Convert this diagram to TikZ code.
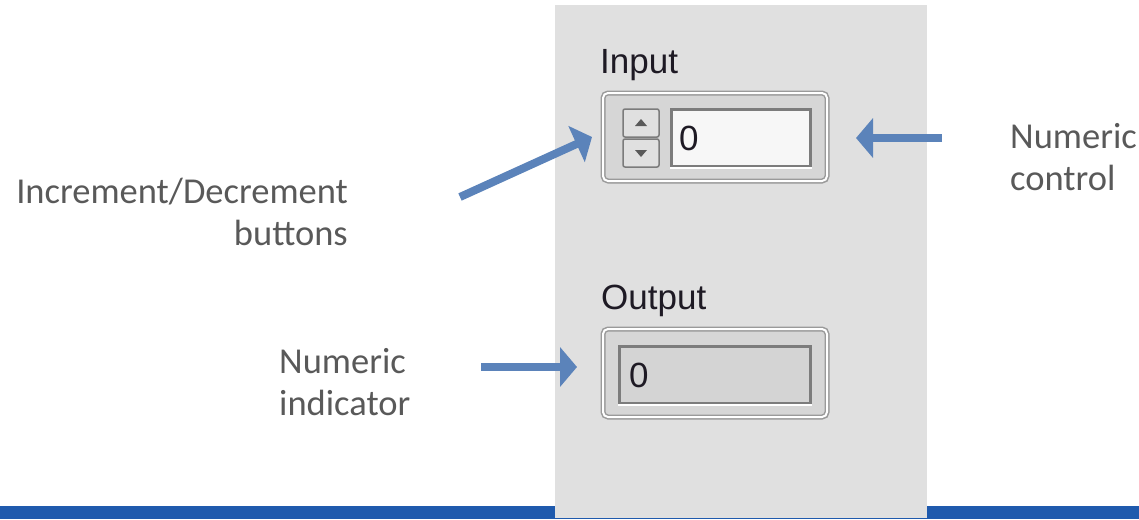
\documentclass[tikz,border=0pt]{standalone}
\usepackage{fontspec}
\usepackage{tikz}
\usetikzlibrary{arrows.meta,positioning,calc,shadows}
\newfontfamily\annotfont{Carlito}
\newfontfamily\lvfont{Liberation Sans}
\definecolor{annotgray}{HTML}{595959}
\definecolor{pointerblue}{HTML}{5B83BA}
\definecolor{barblue}{HTML}{1F5AAD}
\definecolor{panelgray}{HTML}{E0E0E0}
\definecolor{framegray}{HTML}{9A9A9A}
\definecolor{framefill}{HTML}{D6D6D6}
\definecolor{fieldedge}{HTML}{7C7C7C}
\definecolor{lvtext}{HTML}{1E1A24}

\begin{document}
\begin{tikzpicture}[x=1pt, y=-1pt,
  annot/.style={font=\annotfont\fontsize{36.5}{42}\selectfont, text=annotgray, inner sep=0pt},
  lvlabel/.style={font=\lvfont\fontsize{35}{42}\selectfont, text=lvtext, inner sep=0pt},
  lvframe/.style={draw=framegray, line width=1.5pt, double=white, double distance=2pt, fill=framefill,
    rounded corners=5pt, minimum width=224pt, minimum height=88pt,
    drop shadow={shadow xshift=2pt, shadow yshift=-2pt, opacity=0.35}},
  spinbtn/.style={draw=framegray!80!black, line width=1.5pt, fill=panelgray, rounded corners=2pt, minimum width=36pt, minimum height=28pt},
  field/.style={draw=fieldedge, line width=3pt, minimum height=57pt},
  pointer/.style={draw=pointerblue, line width=8pt, -{Triangle[length=17pt, width=39pt]}}
]
\useasboundingbox (0,0) rectangle (1139,519);

% background
\fill[barblue] (0,506) rectangle (1139,519);
\fill[panelgray] (555,5) rectangle (927,518);

% numeric control
\node[lvlabel, anchor=base west] (inlabel) at (600,73) {Input};
\node[lvframe] (ctrlbox) at (715,137) {};
\node[spinbtn] (spinup) at (641,123) {};
\node[spinbtn] (spindn) at (641,153) {};
\fill[black!65] ($(spinup)+(-6,3)$) -- ($(spinup)+(6,3)$) -- ($(spinup)+(0,-4)$) -- cycle;
\fill[black!65] ($(spindn)+(-6,-3)$) -- ($(spindn)+(6,-3)$) -- ($(spindn)+(0,4)$) -- cycle;
\node[field, fill=black!3, minimum width=139pt] (infield) at (741,138) {};
\draw[white, line width=2pt] (infield.south west) -- (infield.south east);
\node[lvlabel, anchor=west, right=9pt of infield.west] (inval) {0};

% numeric indicator
\node[lvlabel, anchor=base west] (outlabel) at (601,309) {Output};
\node[lvframe] (indbox) at (715,373) {};
\node[field, fill=black!17, minimum width=191pt] (outfield) at (715,375) {};
\draw[white, line width=2pt] (outfield.south west) -- (outfield.south east);
\node[lvlabel, anchor=west, right=11pt of outfield.west] (outval) {0};

% annotations (base = last line)
\node[annot, align=right, anchor=base east] (incnote) at (348,245) {Increment/Decrement\hspace{18pt}\\buttons};
\node[annot, align=left, anchor=base west] (ctrlnote) at (1010,190) {Numeric\\control};
\node[annot, align=left, anchor=base west] (indnote) at (279,415) {Numeric\\indicator};

\coordinate (inctail) at (460,197);
\coordinate (inctip) at (592,137);
\coordinate (ctrltail) at (942,138);
\coordinate (ctrltip) at (856,138);
\coordinate (indtail) at (481,367);
\coordinate (indtip) at (577,367);

\draw[pointer] (inctail) -- (inctip);
\draw[pointer] (ctrltail) -- (ctrltip);
\draw[pointer] (indtail) -- (indtip);

\end{tikzpicture}
\end{document}
